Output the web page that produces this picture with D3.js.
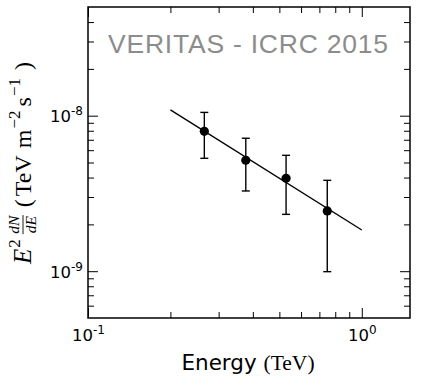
<!DOCTYPE html>
<html>
<head>
<meta charset="utf-8">
<script src="https://cdn.jsdelivr.net/npm/d3@7"></script>
<style>
  body { margin: 0; background: #fff; }
  svg { display: block; }
</style>
</head>
<body>
<svg id="chart" width="433" height="379"></svg>
<script>
// spectral points
var energy = [0.266, 0.377, 0.529, 0.748];
var flux = [7.93e-9, 5.17e-9, 3.96e-9, 2.44e-9];
var fluxHi = [1.05e-8, 7.16e-9, 5.56e-9, 3.84e-9];
var fluxLo = [5.32e-9, 3.28e-9, 2.32e-9, 0.993e-9];

// power-law fit, end points
var fitEnergy = [0.2, 1.0];
var fitFlux = [1.09e-8, 1.84e-9];

var xMajor = [0.1, 1];
var xMinor = [0.2, 0.3, 0.4, 0.5, 0.6, 0.7, 0.8, 0.9];
var yMajor = [1e-9, 1e-8];
var yMinor = [6e-10, 7e-10, 8e-10, 9e-10, 2e-9, 3e-9, 4e-9, 5e-9, 6e-9, 7e-9, 8e-9, 9e-9, 2e-8, 3e-8, 4e-8];

var title = "VERITAS - ICRC 2015";

var margin = {top: 7, right: 23, bottom: 61, left: 88};
var width = 433 - margin.left - margin.right;
var height = 379 - margin.top - margin.bottom;

var svg = d3.select("#chart");
var g = svg.append("g")
    .attr("transform", "translate(" + margin.left + "," + margin.top + ")");

var x = d3.scaleLog().domain([0.1, 1.5]).range([0, width]);
var y = d3.scaleLog().domain([5e-10, 5e-8]).range([height, 0]);

function tickAxis(axisFn, scale, values, size, transform) {
    var a = g.append("g")
        .attr("transform", transform)
        .call(axisFn(scale).tickValues(values).tickSize(-size).tickFormat(""));
    a.select(".domain").remove();
    a.selectAll("line").attr("stroke", "#000").attr("stroke-width", 1);
}

// ticks on all four sides, pointing in
tickAxis(d3.axisBottom, x, xMajor, 10, "translate(0," + height + ")");
tickAxis(d3.axisBottom, x, xMinor, 6, "translate(0," + height + ")");
tickAxis(d3.axisTop, x, xMajor, 10, "translate(0,0)");
tickAxis(d3.axisTop, x, xMinor, 6, "translate(0,0)");
tickAxis(d3.axisLeft, y, yMajor, 10, "translate(0,0)");
tickAxis(d3.axisLeft, y, yMinor, 6, "translate(0,0)");
tickAxis(d3.axisRight, y, yMajor, 10, "translate(" + width + ",0)");
tickAxis(d3.axisRight, y, yMinor, 6, "translate(" + width + ",0)");

function powLabel(sel, v) {
    var e = Math.round(Math.log10(v));
    sel.text(null);
    sel.append("tspan").text("10");
    sel.append("tspan").attr("dy", -7).style("font-size", "12px").text(e);
}

// tick labels
var xl = g.append("g")
    .attr("transform", "translate(0," + height + ")")
    .call(d3.axisBottom(x).tickValues(xMajor).tickSize(0).tickPadding(0));
xl.select(".domain").remove();
xl.selectAll("text")
    .attr("y", 23)
    .attr("dy", 0)
    .style("font-family", "DejaVu Sans")
    .style("font-size", "16.5px")
    .attr("fill", "#000")
    .each(function(d) { powLabel(d3.select(this), d); });

var yl = g.append("g")
    .call(d3.axisLeft(y).tickValues(yMajor).tickSize(0).tickPadding(5));
yl.select(".domain").remove();
yl.selectAll("text")
    .attr("dy", "0.36em")
    .style("font-family", "DejaVu Sans")
    .style("font-size", "16.5px")
    .attr("fill", "#000")
    .each(function(d) { powLabel(d3.select(this), d); });

// frame
g.append("rect")
    .attr("width", width)
    .attr("height", height)
    .attr("fill", "none")
    .attr("stroke", "#000")
    .attr("stroke-width", 1.5);

// title text inside the plot
g.append("text")
    .attr("x", width / 2 - 1)
    .attr("y", 46)
    .attr("text-anchor", "middle")
    .attr("textLength", 280)
    .attr("lengthAdjust", "spacing")
    .style("font-family", "Liberation Sans, Arial, sans-serif")
    .style("font-size", "26.5px")
    .attr("fill", "#8c8c8c")
    .text(title);

// fit line
var line = d3.line()
    .x(function(d) { return x(d[0]); })
    .y(function(d) { return y(d[1]); });
g.append("path")
    .datum(d3.zip(fitEnergy, fitFlux))
    .attr("d", line)
    .attr("fill", "none")
    .attr("stroke", "#000")
    .attr("stroke-width", 1.4);

// error bars and points
var pts = energy.map(function(e, i) {
    return {e: e, f: flux[i], hi: fluxHi[i], lo: fluxLo[i]};
});
var eb = g.selectAll(".err").data(pts).enter().append("g").attr("class", "err");
eb.append("line")
    .attr("x1", function(d) { return x(d.e); })
    .attr("x2", function(d) { return x(d.e); })
    .attr("y1", function(d) { return y(d.hi); })
    .attr("y2", function(d) { return y(d.lo); });
["hi", "lo"].forEach(function(k) {
    eb.append("line")
        .attr("x1", function(d) { return x(d.e) - 4; })
        .attr("x2", function(d) { return x(d.e) + 4; })
        .attr("y1", function(d) { return y(d[k]); })
        .attr("y2", function(d) { return y(d[k]); });
});
eb.selectAll("line").attr("stroke", "#000").attr("stroke-width", 1.4);
eb.append("circle")
    .attr("cx", function(d) { return x(d.e); })
    .attr("cy", function(d) { return y(d.f); })
    .attr("r", 4.6)
    .attr("fill", "#000");

// x axis label
var xlab = svg.append("text")
    .attr("x", margin.left + width / 2 - 1)
    .attr("y", 370)
    .attr("text-anchor", "middle")
    .style("font-size", "21.5px");
xlab.append("tspan").style("font-family", "DejaVu Sans").text("Energy ");
xlab.append("tspan").style("font-family", "Liberation Serif").text("(TeV)");

// y axis label, built piece by piece along the rotated baseline
var serif = "Liberation Serif";
var yg = svg.append("g").attr("transform", "translate(31,264) rotate(-90)");
var pos = 0;
function piece(txt, opt) {
    var t = yg.append("text")
        .attr("x", pos)
        .attr("y", opt.dy || 0)
        .style("font-family", serif)
        .style("font-size", (opt.size || 24) + "px")
        .style("font-style", opt.italic ? "italic" : "normal")
        .attr("fill", "#000")
        .text(txt);
    pos += t.node().getComputedTextLength() + (opt.gap || 0);
    return t;
}
piece("E", {italic: true, size: 25, gap: 1});
piece("2", {size: 17, dy: -11, gap: 5});
// fraction dN/dE
var fx = pos;
var numer = yg.append("text").attr("y", -12)
    .style("font-family", serif).style("font-size", "15.5px").style("font-style", "italic")
    .text("dN");
var denom = yg.append("text").attr("y", 5)
    .style("font-family", serif).style("font-size", "15.5px").style("font-style", "italic")
    .text("dE");
var fw = Math.max(numer.node().getComputedTextLength(), denom.node().getComputedTextLength()) + 1;
numer.attr("x", fx + fw / 2).attr("text-anchor", "middle");
denom.attr("x", fx + fw / 2).attr("text-anchor", "middle");
yg.append("line")
    .attr("x1", fx).attr("x2", fx + fw)
    .attr("y1", -8).attr("y2", -8)
    .attr("stroke", "#000").attr("stroke-width", 0.9);
pos = fx + fw + 8;
piece("(", {gap: 3});
piece("TeV", {gap: 7});
piece("m", {gap: 1});
piece("\u22122", {size: 17, dy: -11, gap: 4});
piece("s", {gap: 1});
piece("\u22121", {size: 17, dy: -11, gap: 8});
piece(")", {});
</script>
</body>
</html>
